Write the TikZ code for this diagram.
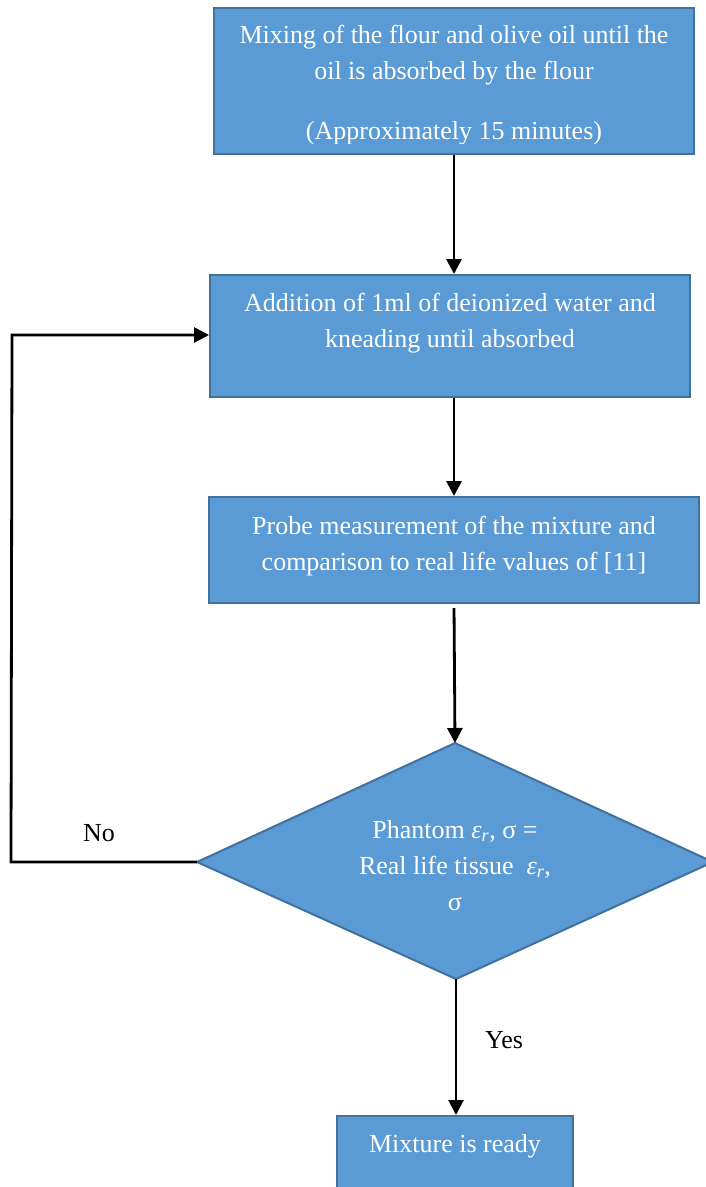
\documentclass[tikz,border=0pt]{standalone}
\usepackage{fontspec}
\setmainfont{Liberation Serif}
\usetikzlibrary{arrows.meta}
\definecolor{boxfill}{HTML}{5B9BD5}
\definecolor{boxline}{HTML}{41719C}
\begin{document}
\begin{tikzpicture}[x=1pt,y=-1pt,
  box/.style={draw=boxline, fill=boxfill, line width=2pt, rectangle, inner sep=0pt},
  txt/.style={text=white, align=center, inner sep=0pt, anchor=north,
    font=\fontsize{26}{36}\selectfont},
  lbl/.style={text=black, inner sep=0pt, anchor=base,
    font=\fontsize{26}{36}\selectfont},
  flow/.style={line width=2.8pt, -{Triangle[length=15pt,width=15pt]}}]
\useasboundingbox (0,0) rectangle (705,1187);

% process boxes
\node[box, minimum width=480pt, minimum height=146pt] (b1) at (454,81) {};
\node[box, minimum width=480pt, minimum height=121.5pt] (b2) at (450,335.75) {};
\node[box, minimum width=490pt, minimum height=106pt] (b3) at (454,550) {};
\node[box, minimum width=236pt, minimum height=84pt] (b4) at (455,1158) {};

% first box text, cut off at the lower text margin
\begin{scope}
  \clip (214,8) rectangle (694,143);
  \node[txt] (t1) at (454,43-25.2) {\strut Mixing of the flour and olive oil until the\\
    oil is absorbed by the flour\\[24pt]
    (Approximately 15 minutes)};
\end{scope}
\node[txt] (t2) at (450,311.7-25.2) {\strut Addition of 1ml of deionized water and\\
  kneading until absorbed};
\node[txt] (t3) at (454,534-25.2) {\strut Probe measurement of the mixture and\\
  comparison to real life values of [11]};
\node[txt] (t4) at (455,1152.7-25.2) {\strut Mixture is ready};

% decision diamond
\coordinate (dT) at (455,743);
\coordinate (dL) at (197,862);
\coordinate (dR) at (713,862);
\coordinate (dB) at (456,979);
\draw[draw=boxline, fill=boxfill, line width=2pt, line join=miter]
  (dT) -- (dR) -- (dB) -- (dL) -- cycle;
\node[txt] (t5) at (455,838-25.2) {\strut Phantom \textit{ε}\textsubscript{\textit{r}}, σ =\\
  Real life tissue\ \ \textit{ε}\textsubscript{\textit{r}},\\ σ};

% connectors
\draw[flow] (b1.south) -- (b1.south |- b2.north);
\draw[flow] (b3.north |- b2.south) -- (b3.north);
\draw[flow, shorten <=4pt] (b3.south) -- (dT);
\draw[flow] (dB) -- (dB |- b4.north);

% feedback loop
\coordinate (c1) at (11,862);
\coordinate (c2) at (12,335);
\draw[flow, line join=miter] (dL) -- (c1) -- (c2) -- (b2.west |- c2);

% branch labels
\node[lbl] (no) at (99,841.7) {No};
\node[lbl, anchor=base west] (yes) at (485,1048) {Yes};
\end{tikzpicture}
\end{document}
